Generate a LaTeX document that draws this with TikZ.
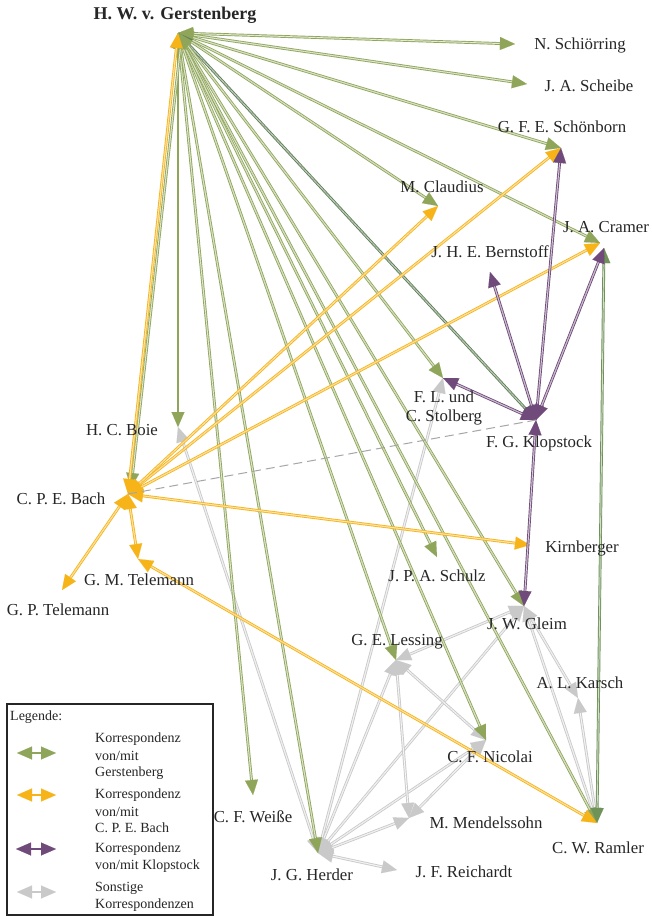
\documentclass[tikz,border=0pt]{standalone}
\usepackage{fontspec}
\setmainfont{Liberation Serif}
\usetikzlibrary{arrows.meta}
\definecolor{gc}{HTML}{8FA65A}
\definecolor{gdark}{HTML}{5F7E58}
\definecolor{gmid}{HTML}{6E9257}
\definecolor{oc}{HTML}{F7B418}
\definecolor{pc}{HTML}{6F4A7A}
\definecolor{grc}{HTML}{C9C9C9}
\tikzset{
  tip/.tip={Triangle[length=15pt,width=13pt]},
  edge/.style 2 args={draw=none,
    postaction={draw=#1, line width=2.8pt, shorten <=12pt, shorten >=12pt},
    postaction={draw=#2, line width=1pt, shorten <=12pt, shorten >=12pt},
    postaction={draw=#1, line width=0.05pt, tip-tip}},
  gE/.style={edge={gc}{gc!12}},
  gD/.style={edge={gdark}{gdark!25}},
  gM/.style={edge={gmid}{gmid!20}},
  oE/.style={edge={oc}{oc!20}},
  pE/.style={edge={pc}{pc!15}},
  rE/.style={edge={grc}{white}},
  lab/.style={inner sep=0pt, font=\fontsize{16.8}{18}\selectfont, text=black!85},
  leg/.style={inner sep=0pt, anchor=west, font=\fontsize{14}{16}\selectfont, text=black!85},
}
\begin{document}
\begin{tikzpicture}[x=1pt,y=-1pt]
\useasboundingbox (0,0) rectangle (651,916);
\fill[white] (0,0) rectangle (651,916);
% anchor points
\coordinate (G) at (178,33);
\coordinate (Gb) at (182,34);
\coordinate (Schi) at (515,44);
\coordinate (Sche) at (527,84);
\coordinate (Scho) at (561,148);
\coordinate (Cla) at (438,206);
\coordinate (Cra) at (600,243);
\coordinate (Cra2) at (604,248);
\coordinate (Ber) at (490,272);
\coordinate (Sto) at (443,378);
\coordinate (Klo) at (536,420);
\coordinate (Boi) at (178,427);
\coordinate (Bach) at (128,494);
\coordinate (Bachg) at (131,488);
\coordinate (GMT) at (138,559);
\coordinate (GPT) at (62,590);
\coordinate (Kir) at (530,545);
\coordinate (Sch) at (437,557);
\coordinate (Gle) at (524,606);
\coordinate (Les) at (396,660);
\coordinate (Kar) at (578,698);
\coordinate (Nic) at (486,740);
\coordinate (Men) at (409,818);
\coordinate (Ram) at (597,823);
\coordinate (Rei) at (397,870);
\coordinate (Her) at (318,853);
\coordinate (Wei) at (253,795);
% other correspondences
\draw[rE] (Her) -- (Boi);
\draw[rE] (Her) -- (Sto);
\draw[rE] (Her) -- (Les);
\draw[rE] (Her) -- (Gle);
\draw[rE] (Her) -- (Nic);
\draw[rE] (Her) -- (Men);
\draw[rE] (Her) -- (Rei);
\draw[rE] (Gle) -- (Les);
\draw[rE] (Les) -- (Nic);
\draw[rE] (Les) -- (Men);
\draw[rE] (Nic) -- (Men);
\draw[rE] (Gle) -- (Kar);
\draw[rE] (Gle) -- (Ram);
\draw[rE] (Kar) -- (Ram);
% Gerstenberg
\draw[gE] (G) -- (Schi);
\draw[gE] (G) -- (Sche);
\draw[gE] (G) -- (Scho);
\draw[gE] (G) -- (Cla);
\draw[gE] (G) -- (Cra);
\draw[gD] (G) -- (Klo);
\draw[gE] (G) -- (Sto);
\draw[gE] (G) -- (Gle);
\draw[gE] (G) -- (Ram);
\draw[gE] (G) -- (Nic);
\draw[gE] (G) -- (Les);
\draw[gE] (G) -- (Sch);
\draw[gE] (G) -- (Her);
\draw[gE] (G) -- (Wei);
\draw[gE] (G) -- (Boi);
\draw[gE] (Gb) -- (Bachg);
\draw[gM] (Cra2) -- (Ram);
% Bach
\draw[oE] (Bach) -- (G);
\draw[oE] (Bach) -- (Scho);
\draw[oE] (Bach) -- (Cla);
\draw[oE] (Bach) -- (Cra);
\draw[oE] (Bach) -- (Kir);
\draw[oE] (Bach) -- (GMT);
\draw[oE] (Bach) -- (GPT);
\draw[oE] (GMT) -- (Ram);
% Klopstock
\draw[pE] (Klo) -- (Scho);
\draw[pE] (Klo) -- (Cra2);
\draw[pE] (Klo) -- (Ber);
\draw[pE] (Klo) -- (Sto);
\draw[pE] (Klo) -- (Gle);
\draw[draw=black!35, line width=1pt, dash pattern=on 9pt off 5pt] (Bach) -- (Klo);
% labels
\node[lab, font=\fontsize{18}{20}\selectfont\bfseries] (nG) at (175,15) {H. W. v. Gerstenberg};
\node[lab] (nSchi) at (580,45) {N. Schiörring};
\node[lab] (nSche) at (589,86) {J. A. Scheibe};
\node[lab] (nScho) at (562,127) {G. F. E. Schönborn};
\node[lab] (nCla) at (442,187) {M. Claudius};
\node[lab] (nCra) at (606,227) {J. A. Cramer};
\node[lab] (nBer) at (490,252) {J. H. E. Bernstoff};
\node[lab] (nSto1) at (444,397) {F. L. und};
\node[lab] (nSto2) at (444,417) {C. Stolberg};
\node[lab] (nKlo) at (539,443) {F. G. Klopstock};
\node[lab] (nBoi) at (122,430) {H. C. Boie};
\node[lab] (nBach) at (61,499) {C. P. E. Bach};
\node[lab] (nGMT) at (139,580) {G. M. Telemann};
\node[lab] (nGPT) at (58,610) {G. P. Telemann};
\node[lab] (nKir) at (582,548) {Kirnberger};
\node[lab] (nSch) at (437,576) {J. P. A. Schulz};
\node[lab] (nGle) at (527,624) {J. W. Gleim};
\node[lab] (nLes) at (397,642) {G. E. Lessing};
\node[lab] (nKar) at (580,683) {A. L. Karsch};
\node[lab] (nNic) at (490,757) {C. F. Nicolai};
\node[lab] (nMen) at (486,823) {M. Mendelssohn};
\node[lab] (nRam) at (598,848) {C. W. Ramler};
\node[lab] (nRei) at (464,872) {J. F. Reichardt};
\node[lab] (nHer) at (312,875) {J. G. Herder};
\node[lab] (nWei) at (253,817) {C. F. Weiße};
% legend
\node[draw=black!85, line width=1.5pt, inner sep=0pt, minimum width=206pt, minimum height=211pt, anchor=north west] (box) at (6,703) {};
\node[leg] (l0) at (10,717) {Legende:};
\node[leg] (l1) at (95,739) {Korrespondenz};
\node[leg] (l2) at (95,756) {von/mit};
\node[leg] (l3) at (95,773) {Gerstenberg};
\node[leg] (l4) at (95,795) {Korrespondenz};
\node[leg] (l5) at (95,812) {von/mit};
\node[leg] (l6) at (95,828) {C. P. E. Bach};
\node[leg] (l7) at (95,849) {Korrespondenz};
\node[leg] (l8) at (95,866) {von/mit Klopstock};
\node[leg] (l9) at (95,888) {Sonstige};
\node[leg] (l10) at (95,905) {Korrespondenzen};
\coordinate (a1) at (17,753); \coordinate (b1) at (56,753);
\coordinate (a2) at (17,795); \coordinate (b2) at (56,795);
\coordinate (a3) at (16,849); \coordinate (b3) at (56,849);
\coordinate (a4) at (17,892); \coordinate (b4) at (56,892);
\draw[gE] (a1) -- (b1);
\draw[oE] (a2) -- (b2);
\draw[pE] (a3) -- (b3);
\draw[rE] (a4) -- (b4);
\end{tikzpicture}
\end{document}
